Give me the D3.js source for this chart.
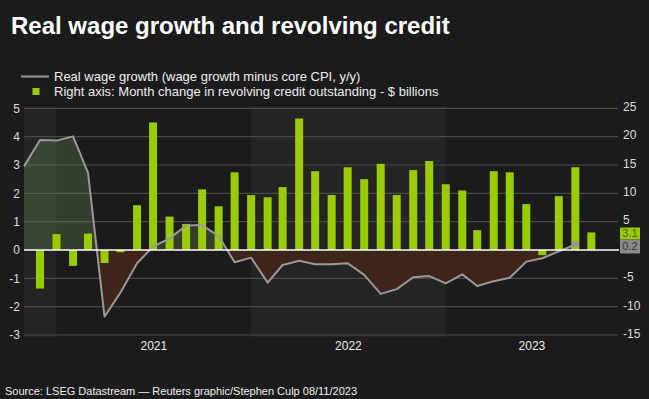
<!DOCTYPE html>
<html>
<head>
<meta charset="utf-8">
<script src="https://cdn.jsdelivr.net/npm/d3@7"></script>
<style>
  body { margin: 0; background: #1b1b1b; }
  svg { display: block; font-family: "Liberation Sans", Arial, sans-serif; }
</style>
</head>
<body>
<svg id="chart" width="649" height="399"></svg>
<script>
// months: Nov 2020 .. Sep 2023
const firstMonth = new Date(2020, 10, 1),
      lastMonth = new Date(2023, 8, 1);

// real wage growth (wage growth minus core CPI, y/y), left axis
const realWage = [2.95, 3.88, 3.86, 4.01, 2.73, -2.35, -1.5, -0.47, 0.12, 0.41, 0.86, 0.88,
  0.49, -0.43, -0.27, -1.15, -0.53, -0.38, -0.5, -0.5, -0.47, -0.88, -1.55, -1.38,
  -0.96, -0.92, -1.18, -0.86, -1.27, -1.1, -0.98, -0.41, -0.29, -0.05, 0.2];

// month change in revolving credit outstanding, $ bn, right axis
const revolving = [-6.8, 2.8, -2.8, 2.9, -2.3, -0.4, 7.9, 22.5, 5.9, 4.6, 10.7, 7.7,
  13.7, 9.7, 9.3, 11.1, 23.2, 13.9, 9.7, 14.6, 12.5, 15.2, 9.7, 14.1,
  15.7, 11.6, 10.5, 3.5, 13.9, 13.7, 8.1, -0.9, 9.5, 14.6, 3.1];

const leftTicks = [5, 4, 3, 2, 1, 0, -1, -2, -3];
const rightTicks = [25, 20, 15, 10, 5, -5, -10, -15];
const years = [2021, 2022, 2023];

const months = d3.timeMonth.range(firstMonth, d3.timeMonth.offset(lastMonth, 1));

var svg = d3.select("#chart");

var x = d3.scaleTime()
    .domain([firstMonth, new Date(2023, 10, 20)])
    .range([24, 618]);
var yL = d3.scaleLinear().domain([-3, 5]).range([335, 108.3]);
var yR = d3.scaleLinear().domain([-15, 25]).range([335, 108.3]);

// year bands (alternating)
var bandEdges = [firstMonth].concat(years.map(y => new Date(y, 0, 1)), [x.domain()[1]]);
for (let i = 0; i < bandEdges.length - 1; i++) {
  if (i % 2 === 0) {
    svg.append("rect")
      .attr("x", x(bandEdges[i]))
      .attr("y", yL(5) - 2)
      .attr("width", x(bandEdges[i + 1]) - x(bandEdges[i]))
      .attr("height", yL(-3) - yL(5) + 4)
      .attr("fill", "#242424");
  }
}

// gridlines
svg.append("g").selectAll("line").data(leftTicks.filter(d => d !== 0)).enter()
  .append("line")
  .attr("x1", x.range()[0]).attr("x2", x.range()[1])
  .attr("y1", d => yL(d)).attr("y2", d => yL(d))
  .attr("stroke", "#4a4a4a").attr("stroke-width", 1.2);

// area between line and zero, split by sign
var defs = svg.append("defs");
defs.append("clipPath").attr("id", "clipPos").append("rect")
  .attr("x", 0).attr("y", 0).attr("width", 649).attr("height", yL(0));
defs.append("clipPath").attr("id", "clipNeg").append("rect")
  .attr("x", 0).attr("y", yL(0)).attr("width", 649).attr("height", 399 - yL(0));

var area = d3.area()
  .x((d, i) => x(months[i]))
  .y0(yL(0))
  .y1(d => yL(d));
svg.append("path").datum(realWage).attr("d", area)
  .attr("clip-path", "url(#clipPos)")
  .attr("fill", "rgba(110,150,80,0.3)");
svg.append("path").datum(realWage).attr("d", area)
  .attr("clip-path", "url(#clipNeg)")
  .attr("fill", "#3e2419");

// bars, placed at month end
var barW = 8;
svg.append("g").selectAll("rect").data(revolving).enter()
  .append("rect")
  .attr("x", (d, i) => x(d3.timeMonth.offset(months[i], 1)) - barW / 2)
  .attr("y", d => Math.min(yR(d), yR(0)))
  .attr("width", barW)
  .attr("height", d => Math.abs(yR(d) - yR(0)))
  .attr("fill", "#99cc00");

// line
var line = d3.line()
  .x((d, i) => x(months[i]))
  .y(d => yL(d));
svg.append("path").datum(realWage).attr("d", line)
  .attr("fill", "none").attr("stroke", "#999").attr("stroke-width", 2)
  .attr("stroke-linejoin", "round");
var last = realWage.length - 1;
svg.append("circle")
  .attr("cx", x(months[last])).attr("cy", yL(realWage[last])).attr("r", 3.5)
  .attr("fill", "#999");

// zero line
svg.append("line")
  .attr("x1", x.range()[0]).attr("x2", x.range()[1] + 1)
  .attr("y1", yL(0)).attr("y2", yL(0))
  .attr("stroke", "#fff").attr("stroke-width", 1.5);

// left axis labels
svg.append("g").selectAll("text").data(leftTicks).enter()
  .append("text")
  .attr("x", 20).attr("y", d => yL(d)).attr("dy", "0.35em")
  .attr("text-anchor", "end")
  .attr("fill", "#ddd").attr("font-size", 12)
  .text(d => d);

// right axis labels
svg.append("g").selectAll("text").data(rightTicks).enter()
  .append("text")
  .attr("x", 623).attr("y", d => yR(d) - 1).attr("dy", "0.32em")
  .attr("fill", "#ddd").attr("font-size", 12)
  .text(d => d);

// year labels
svg.append("g").selectAll("text").data(years).enter()
  .append("text")
  .attr("x", y => {
    var a = Math.max(x(new Date(y, 0, 1)), x.range()[0]),
        b = Math.min(x(new Date(y + 1, 0, 1)), x.range()[1]);
    return (a + b) / 2;
  })
  .attr("y", 350)
  .attr("text-anchor", "middle")
  .attr("fill", "#eee").attr("font-size", 12)
  .text(d => d);

// last value tags
var tags = [
  {v: revolving[last].toFixed(1), fill: "#99cc00", text: "#4d5e14", y: 227.5, h: 12},
  {v: realWage[last].toFixed(1), fill: "#8a8a8a", text: "#333", y: 239.5, h: 14}
];
var tag = svg.append("g").selectAll("g").data(tags).enter().append("g");
tag.append("rect")
  .attr("x", 620).attr("y", d => d.y).attr("width", 20).attr("height", d => d.h)
  .attr("fill", d => d.fill);
tag.append("text")
  .attr("x", 630).attr("y", d => d.y + d.h / 2).attr("dy", "0.36em")
  .attr("text-anchor", "middle")
  .attr("fill", d => d.text).attr("font-size", 11)
  .text(d => d.v);

// title
svg.append("text")
  .attr("x", 11).attr("y", 34)
  .attr("fill", "#fff").attr("font-size", 24).attr("font-weight", "bold")
  .text("Real wage growth and revolving credit");

// legend
svg.append("line")
  .attr("x1", 21).attr("x2", 49).attr("y1", 76.5).attr("y2", 76.5)
  .attr("stroke", "#999").attr("stroke-width", 2);
svg.append("rect")
  .attr("x", 32.5).attr("y", 88).attr("width", 7).attr("height", 7)
  .attr("fill", "#99cc00");
svg.append("text")
  .attr("x", 54).attr("y", 81)
  .attr("fill", "#eee").attr("font-size", 13)
  .text("Real wage growth (wage growth minus core CPI, y/y)");
svg.append("text")
  .attr("x", 54).attr("y", 96)
  .attr("fill", "#eee").attr("font-size", 13)
  .text("Right axis: Month change in revolving credit outstanding - $ billions");

// source
svg.append("text")
  .attr("x", 5).attr("y", 395)
  .attr("fill", "#eee").attr("font-size", 11)
  .text("Source: LSEG Datastream \u2014 Reuters graphic/Stephen Culp 08/11/2023");
</script>
</body>
</html>
